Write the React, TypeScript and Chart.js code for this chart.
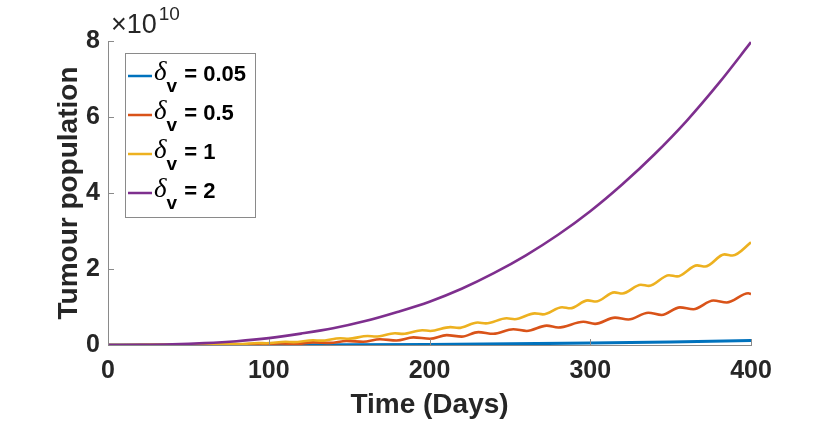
import React, { useEffect, useRef } from "react";
import { Chart, registerables } from "chart.js";

Chart.register(...registerables);

// Values are in units of 1e10 (axis shows ×10^10)
const blueDays = [0, 50, 100, 150, 200, 250, 300, 350, 400];
const blueValues = [0, 0.0005, 0.002, 0.007, 0.016, 0.03, 0.05, 0.08, 0.12];

const orangeDays = [
  0, 40, 65, 75, 86, 96, 106.8, 117, 127.6, 138, 148.4, 158.7, 169.2, 179.5, 190, 200.3,
  210.7, 220, 230.4, 239.7, 252.1, 260.5, 272.9, 280.1, 295.7, 303, 315.4, 323.7, 336.1,
  344.4, 355.8, 364.1, 376.6, 384.9, 398.3, 400,
];
const orangeValues = [
  0, 0.002, 0.008, 0.006, 0.02, 0.016, 0.04, 0.032, 0.068, 0.055, 0.105, 0.085, 0.15, 0.12,
  0.2, 0.165, 0.26, 0.22, 0.34, 0.295, 0.415, 0.37, 0.51, 0.46, 0.61, 0.555, 0.72, 0.67, 0.85,
  0.79, 0.99, 0.94, 1.17, 1.12, 1.36, 1.34,
];

const yellowDays = [
  0, 30, 50, 59.5, 64.5, 76.5, 81.5, 93.5, 98.5, 110.5, 115.5, 127.5, 132.5, 144.5, 149.5,
  161.5, 166.5, 178.5, 183.5, 195.5, 200.5, 213, 218, 230, 235, 248, 253, 265.5, 270.5,
  282.5, 287.5, 298.5, 303.5, 315, 320, 331.5, 336.5, 349, 354, 366.5, 371.5, 383.5, 388.5,
  400,
];
const yellowValues = [
  0, 0.002, 0.008, 0.016, 0.013, 0.033, 0.027, 0.054, 0.047, 0.084, 0.076, 0.126, 0.114,
  0.177, 0.163, 0.238, 0.222, 0.308, 0.292, 0.39, 0.37, 0.47, 0.45, 0.592, 0.568, 0.702,
  0.678, 0.833, 0.807, 0.994, 0.966, 1.175, 1.145, 1.385, 1.355, 1.585, 1.555, 1.835, 1.805,
  2.095, 2.065, 2.385, 2.355, 2.7,
];

const purpleDays = [0, 20, 40, 60, 80, 100, 120, 140, 160, 180, 200, 220, 240, 260, 280, 300, 320, 340, 360, 380, 400];
const purpleValues = [
  0, 0.004, 0.018, 0.049, 0.1, 0.18, 0.3, 0.44, 0.63, 0.87, 1.14, 1.48, 1.89, 2.36, 2.9,
  3.52, 4.23, 5.02, 5.9, 6.89, 7.97,
];

const seriesLabels = ["0.05", "0.5", "1", "2"];
const seriesColors = ["#0072BD", "#D95319", "#EDB120", "#7E2F8E"];
const xTicks = [0, 100, 200, 300, 400];
const yTicks = [0, 2, 4, 6, 8];
const xTitle = "Time (Days)";
const yTitle = "Tumour population";
const exponentBase = "×10";
const exponentPower = "10";
const legendSymbol = "δ";
const legendSub = "v";

const AXIS_COLOR = "#8a8a8a";
const TEXT_COLOR = "#262626";
const SANS = '"Liberation Sans", Arial, sans-serif';

function toPoints(days: number[], vals: number[]) {
  return days.map((d, i) => ({ x: d, y: vals[i] }));
}

const decorPlugin = {
  id: "decor",
  afterDraw(chart: any) {
    const ctx = chart.ctx as CanvasRenderingContext2D;
    const { left, top, bottom } = chart.chartArea;
    const xs = chart.scales.x;
    const ys = chart.scales.y;
    ctx.save();
    // inward tick marks
    ctx.strokeStyle = AXIS_COLOR;
    ctx.lineWidth = 1;
    ctx.beginPath();
    yTicks.forEach((v) => {
      const py = Math.round(ys.getPixelForValue(v)) + 0.5;
      ctx.moveTo(left, py);
      ctx.lineTo(left + 6, py);
    });
    xTicks.forEach((v) => {
      const px = Math.round(xs.getPixelForValue(v)) + 0.5;
      ctx.moveTo(px, bottom);
      ctx.lineTo(px, bottom - 6);
    });
    ctx.stroke();

    // exponent label
    ctx.fillStyle = TEXT_COLOR;
    ctx.textAlign = "left";
    ctx.textBaseline = "alphabetic";
    ctx.font = `27px ${SANS}`;
    ctx.fillText(exponentBase, left + 3, top - 8);
    const wb = ctx.measureText(exponentBase).width;
    ctx.font = `19px ${SANS}`;
    ctx.fillText(exponentPower, left + 5 + wb, top - 21);

    // legend
    const bx = left + 17;
    const by = top + 12;
    const bw = 130;
    const bh = 164;
    ctx.fillStyle = "#ffffff";
    ctx.fillRect(bx, by, bw, bh);
    ctx.strokeStyle = AXIS_COLOR;
    ctx.lineWidth = 1;
    ctx.strokeRect(Math.round(bx) + 0.5, Math.round(by) + 0.5, bw, bh);
    seriesLabels.forEach((lab, i) => {
      const ly = by + 23 + i * 39;
      ctx.strokeStyle = seriesColors[i];
      ctx.lineWidth = 2.5;
      ctx.beginPath();
      ctx.moveTo(bx + 3, ly);
      ctx.lineTo(bx + 27, ly);
      ctx.stroke();
      ctx.fillStyle = "#000000";
      let x = bx + 29;
      ctx.font = `italic 27px "Liberation Serif", serif`;
      ctx.fillText(legendSymbol, x, ly + 4);
      x += ctx.measureText(legendSymbol).width;
      ctx.font = `bold 19px ${SANS}`;
      ctx.fillText(legendSub, x, ly + 16);
      x += ctx.measureText(legendSub).width;
      ctx.font = `bold 22px ${SANS}`;
      ctx.fillText(" = " + lab, x + 1, ly + 5);
    });
    ctx.restore();
  },
};

export default function App() {
  const ref = useRef<HTMLCanvasElement | null>(null);
  useEffect(() => {
    if (!ref.current) return;
    const datasets = [
      { label: seriesLabels[0], data: toPoints(blueDays, blueValues), borderColor: seriesColors[0], borderWidth: 3, order: 4 },
      { label: seriesLabels[1], data: toPoints(orangeDays, orangeValues), borderColor: seriesColors[1], borderWidth: 2.6, order: 3 },
      { label: seriesLabels[2], data: toPoints(yellowDays, yellowValues), borderColor: seriesColors[2], borderWidth: 2.6, order: 2 },
      { label: seriesLabels[3], data: toPoints(purpleDays, purpleValues), borderColor: seriesColors[3], borderWidth: 2.6, order: 1 },
    ].map((d) => ({
      ...d,
      pointRadius: 0,
      fill: false,
      cubicInterpolationMode: "monotone" as const,
      backgroundColor: d.borderColor,
    }));
    const chart = new Chart(ref.current, {
      type: "line",
      data: { datasets },
      plugins: [decorPlugin],
      options: {
        animation: false,
        responsive: false,
        events: [],
        layout: { padding: { left: 0, top: 41, right: 79, bottom: 0 } },
        plugins: { legend: { display: false }, tooltip: { enabled: false } },
        scales: {
          x: {
            type: "linear",
            min: 0,
            max: 400,
            afterFit: (s: any) => { s.height = 76; },
            afterBuildTicks: (s: any) => { s.ticks = xTicks.map((v) => ({ value: v })); },
            grid: { display: false, drawTicks: false },
            border: { display: true, color: AXIS_COLOR, width: 1 },
            ticks: { color: TEXT_COLOR, font: { family: SANS, size: 25, weight: "bold" }, padding: 11, maxRotation: 0 },
            title: { display: true, text: xTitle, color: TEXT_COLOR, font: { family: SANS, size: 28, weight: "bold", lineHeight: 1 }, padding: { top: 0, bottom: 2 } },
          },
          y: {
            type: "linear",
            min: 0,
            max: 8,
            afterFit: (s: any) => { s.width = 108; },
            afterBuildTicks: (s: any) => { s.ticks = yTicks.map((v) => ({ value: v })); },
            grid: { display: false, drawTicks: false },
            border: { display: true, color: AXIS_COLOR, width: 1 },
            ticks: { color: TEXT_COLOR, font: { family: SANS, size: 25, weight: "bold" }, padding: 8 },
            title: { display: true, text: yTitle, color: TEXT_COLOR, font: { family: SANS, size: 28, weight: "bold", lineHeight: 1 }, padding: { top: 55, bottom: 0 } },
          },
        },
      } as any,
    });
    return () => chart.destroy();
  }, []);
  return (
    <div style={{ position: "absolute", left: 0, top: 0, width: 830, height: 421, background: "#fff" }}>
      <canvas ref={ref} width={830} height={421} style={{ width: 830, height: 421 }} />
    </div>
  );
}
